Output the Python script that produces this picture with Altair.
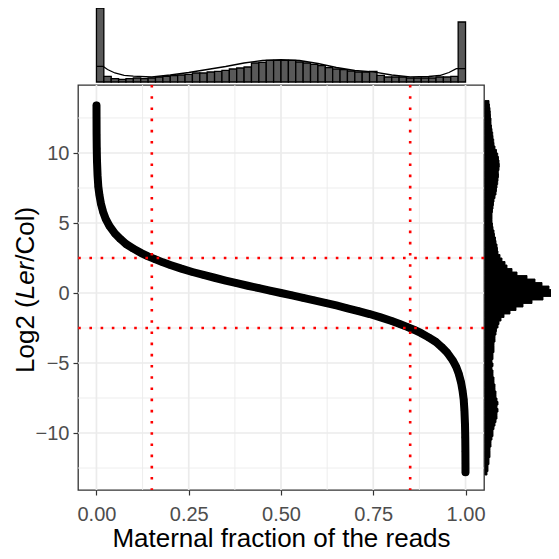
import altair as alt
import pandas as pd

# ---- main scatter: maternal fraction vs log2(Ler/Col) ----
frac = [0.0001, 0.0002, 0.0004, 0.0008, 0.0015, 0.003, 0.005, 0.008, 0.012, 0.018,
        0.025, 0.035, 0.05, 0.065, 0.08, 0.1, 0.12, 0.14, 0.16, 0.18,
        0.2, 0.23, 0.26, 0.29, 0.32, 0.35, 0.38, 0.41, 0.44, 0.47,
        0.5, 0.53, 0.56, 0.59, 0.62, 0.65, 0.68, 0.71, 0.74, 0.77,
        0.8, 0.82, 0.84, 0.86, 0.88, 0.9, 0.92, 0.935, 0.95, 0.965,
        0.975, 0.982, 0.988, 0.992, 0.995, 0.997, 0.9985, 0.9992, 0.9996, 0.9998, 0.99985]
log2r = [13.4, 12.5, 11.3, 10.3, 9.4, 8.4, 7.6, 7.0, 6.4, 5.8,
         5.3, 4.8, 4.25, 3.85, 3.5, 3.17, 2.87, 2.62, 2.4, 2.19,
         2.0, 1.74, 1.5, 1.29, 1.09, 0.89, 0.7, 0.52, 0.35, 0.17,
         0.0, -0.17, -0.35, -0.52, -0.7, -0.89, -1.09, -1.29, -1.5, -1.74,
         -2.0, -2.19, -2.4, -2.62, -2.87, -3.17, -3.5, -3.85, -4.25, -4.8,
         -5.3, -5.8, -6.4, -7.0, -7.6, -8.4, -9.4, -10.3, -11.3, -12.2, -12.8]

# cut-off lines
vlines = [0.15, 0.85]
hlines = [2.5, -2.5]

# ---- top marginal histogram (50 bins of 0.02) ----
top_counts = [74, 5.7, 3.3, 2.7, 3.3, 4, 3.3, 4, 5, 5.7,
              6.3, 7, 7.7, 9, 9, 10, 10.7, 11.7, 13, 14,
              15, 19, 19.7, 21.7, 21.7, 21.7, 21.7, 20, 19, 17.7,
              16.3, 14.3, 13, 12.3, 11, 10, 10, 10.7, 6.7, 5,
              5, 5, 4, 4, 4, 4, 5, 5, 5.7, 60]
top_bin_width = 0.02
dens_x = [0, 0.018, 0.03, 0.05, 0.075, 0.1, 0.15, 0.2, 0.25, 0.3, 0.35, 0.4, 0.45,
          0.5, 0.55, 0.6, 0.65, 0.7, 0.75, 0.8, 0.85, 0.9, 0.93, 0.955, 0.975, 1.0]
dens_y = [15.7, 15.7, 12.5, 9.0, 6.7, 5.8, 5.0, 7.0, 9.5, 12.5, 15.5, 19.0, 21.5,
          22.4, 21.5, 18.5, 14.5, 11.5, 10.2, 7.0, 5.2, 5.5, 6.5, 9.5, 13.3, 13.3]

# ---- right marginal histogram (bins of 0.25 starting at -13) ----
right_start = -13.0
right_bin_width = 0.25
right_counts = [2, 3, 3, 4, 4, 5, 5, 5, 6, 6, 7, 8,
                8, 9, 10, 11, 12, 12, 13, 12, 13, 12, 11, 11,
                10, 10, 9, 9, 8, 8, 7, 8, 7, 8, 8, 9,
                9, 9, 10, 10, 11, 11.5, 13, 14, 16, 19, 25, 31,
                38, 47, 58, 70, 71, 64, 57, 50, 42, 32, 27, 22,
                20, 17, 15, 13, 12.5, 12, 11, 10.5, 9.5, 9, 8, 7.5,
                7, 7, 7, 7.5, 8, 8.5, 9, 10, 11, 11.5, 12, 12.7,
                13, 13.5, 13.3, 14, 14.3, 14, 13.5, 12.7, 11.5, 10, 9, 8.7,
                8, 7.7, 7, 6.5, 6, 6, 5.5, 5.3, 5, 4.5, 4]

x_major = [0, 0.25, 0.5, 0.75, 1.0]
x_minor = [0.125, 0.375, 0.625, 0.875]
y_major = [-10, -5, 0, 5, 10]
y_minor = [-12.5, -7.5, -2.5, 2.5, 7.5, 12.5]

FONT = "Liberation Sans"
W, H = 406, 405
TOP_H, RIGHT_W = 74, 72

xscale = alt.Scale(domain=[-0.05, 1.05], nice=False, zero=False)
yscale = alt.Scale(domain=[-14.07, 14.857], nice=False, zero=False)

xaxis = alt.Axis(values=x_major, format=".2f", grid=False, domain=False,
                 labelFontSize=20, labelColor="#4D4D4D", labelFont=FONT,
                 tickColor="#333333", tickSize=5, tickWidth=1.2, labelPadding=9,
                 title="Maternal fraction of the reads", titleFont=FONT,
                 titleFontSize=26, titleFontWeight="normal", titleColor="#000000",
                 titlePadding=1)
yaxis = alt.Axis(values=y_major, grid=False, domain=False,
                 labelFontSize=20, labelColor="#4D4D4D", labelFont=FONT,
                 tickColor="#333333", tickSize=5, tickWidth=1.2, labelPadding=4,
                 title=None)

X = alt.X("x:Q", scale=xscale, axis=xaxis)
Y = alt.Y("y:Q", scale=yscale, axis=yaxis)

pts = pd.DataFrame({"x": frac, "y": log2r})

gx_major = alt.Chart(pd.DataFrame({"x": x_major})).mark_rule(color="#EBEBEB", strokeWidth=1.7).encode(x=X)
gx_minor = alt.Chart(pd.DataFrame({"x": x_minor})).mark_rule(color="#EBEBEB", strokeWidth=0.9).encode(x=X)
gy_major = alt.Chart(pd.DataFrame({"y": y_major})).mark_rule(color="#EBEBEB", strokeWidth=1.7).encode(y=Y)
gy_minor = alt.Chart(pd.DataFrame({"y": y_minor})).mark_rule(color="#EBEBEB", strokeWidth=0.9).encode(y=Y)

curve = alt.Chart(pts).mark_line(color="black", strokeWidth=8, strokeCap="round",
                                  strokeJoin="round").encode(x=X, y=Y, order="x:Q")
dots = alt.Chart(pts).mark_circle(color="black", size=50, opacity=1).encode(x=X, y=Y)

red_v = alt.Chart(pd.DataFrame({"x": vlines})).mark_rule(
    color="#FF0000", strokeWidth=2.6, strokeDash=[2.6, 8.6]).encode(x=X)
red_h = alt.Chart(pd.DataFrame({"y": hlines})).mark_rule(
    color="#FF0000", strokeWidth=2.6, strokeDash=[2.6, 8.6]).encode(y=Y)

one = pd.DataFrame({"a": [0]})
title_parts = [("Log2 (", "normal", 288), ("Ler", "italic", 214.3), ("/Col)", "normal", 176.7)]
title_layers = [
    alt.Chart(one).mark_text(text=t, font=FONT, fontSize=26, fontStyle=st, angle=270,
                             align="left", baseline="middle", color="black").encode(
        x=alt.value(-52), y=alt.value(yy))
    for t, st, yy in title_parts
]

main = alt.layer(gx_minor, gy_minor, gx_major, gy_major, curve, dots, red_v, red_h,
                 *title_layers).properties(
    width=W, height=H, view=alt.ViewBackground(stroke="#333333", strokeWidth=1.3))

# top histogram
top_df = pd.DataFrame({
    "lo": [i * top_bin_width for i in range(len(top_counts))],
    "hi": [(i + 1) * top_bin_width for i in range(len(top_counts))],
    "base": [0] * len(top_counts),
    "h": top_counts,
})
top_y = alt.Scale(domain=[0, TOP_H], nice=False, zero=False)
top_bars = alt.Chart(top_df).mark_rect(fill="#595959", stroke="black", strokeWidth=1.3).encode(
    x=alt.X("lo:Q", scale=xscale, axis=None), x2="hi:Q",
    y=alt.Y("base:Q", scale=top_y, axis=None), y2="h:Q")
top_dens = alt.Chart(pd.DataFrame({"lo": dens_x, "base": dens_y})).mark_line(
    color="black", strokeWidth=1.3).encode(
    x=alt.X("lo:Q", scale=xscale, axis=None), y=alt.Y("base:Q", scale=top_y, axis=None))
top = alt.layer(top_bars, top_dens).properties(
    width=W, height=TOP_H, view=alt.ViewBackground(stroke="transparent"))

# right histogram
n = len(right_counts)
right_df = pd.DataFrame({
    "lo": [right_start + i * right_bin_width for i in range(n)],
    "hi": [right_start + (i + 1) * right_bin_width for i in range(n)],
    "base": [0] * n,
    "c": right_counts,
})
right = alt.Chart(right_df).mark_rect(fill="black", stroke="black", strokeWidth=0.9).encode(
    y=alt.Y("lo:Q", scale=yscale, axis=None), y2="hi:Q",
    x=alt.X("base:Q", scale=alt.Scale(domain=[0, RIGHT_W], nice=False, zero=False), axis=None),
    x2="c:Q").properties(width=RIGHT_W, height=H, view=alt.ViewBackground(stroke="transparent"))

blank = alt.Chart(one).mark_point(opacity=0).encode(
    x=alt.X("a:Q", axis=None), y=alt.Y("a:Q", axis=None)).properties(
    width=RIGHT_W, height=TOP_H, view=alt.ViewBackground(stroke="transparent"))

chart = alt.concat(top, blank, main, right, columns=2,
                   spacing=alt.RowColnumber(row=3, column=1), bounds="flush").properties(
    autosize=alt.AutoSizeParams(type="none"),
    padding={"left": 70, "top": 0, "right": 473, "bottom": 543},
).configure_view(stroke="transparent", strokeWidth=0).configure(background="white")

chart.save("out.html", embed_options={"renderer": "svg", "actions": False})
